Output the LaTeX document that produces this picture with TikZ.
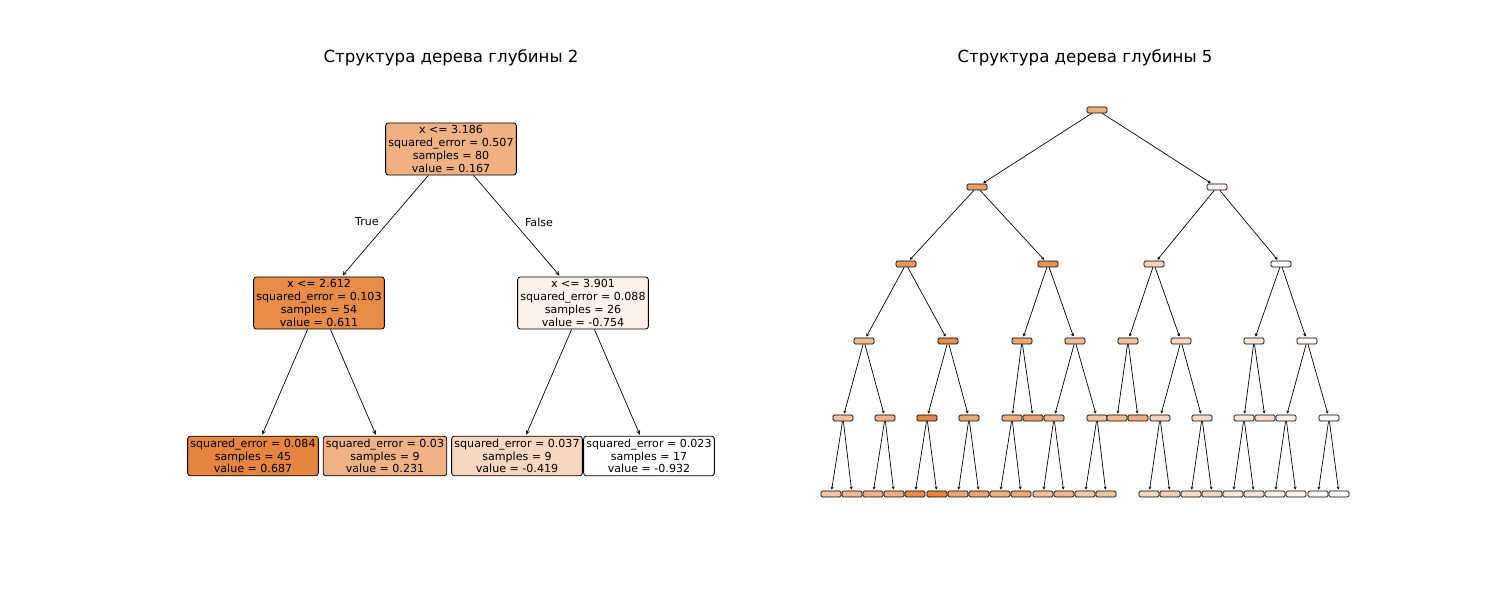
\documentclass[tikz,border=0pt]{standalone}
\usepackage{fontspec}
\setmainfont{DejaVu Sans}
\usetikzlibrary{arrows.meta}
\colorlet{o}{rgb,255:red,229;green,129;blue,57}

\tikzset{
  leafbox/.style={draw, rounded corners=2pt, line width=0.6pt, align=center,
    font=\fontsize{8}{9.2}\selectfont, inner sep=2pt},
  tinybox/.style={draw, rounded corners=1pt, line width=0.5pt,
    minimum width=0.2in, minimum height=0.06in, inner sep=0pt},
  edge/.style={-{To[length=3pt,width=3pt]}, line width=0.5pt, shorten >=1pt},
  lbl/.style={font=\fontsize{8}{9}\selectfont},
  title/.style={font=\fontsize{12}{14}\selectfont}
}

\begin{document}
\begin{tikzpicture}[x=0.01in, y=-0.01in]
    \useasboundingbox (0,0) rectangle (1500,600);

    % Depth 2
    \node (title2) [title] at (451,58) {Структура дерева глубины 2};
    \node (a) [leafbox, fill=o!62] at (451,149) {x <= 3.186\\squared\_error = 0.507\\samples = 80\\value = 0.167};
    \node (a0) [leafbox, fill=o!92] at (319,303) {x <= 2.612\\squared\_error = 0.103\\samples = 54\\value = 0.611};
    \node (a1) [leafbox, fill=o!10] at (583,303) {x <= 3.901\\squared\_error = 0.088\\samples = 26\\value = -0.754};
    \node (a00) [leafbox, fill=o!97] at (253,456) {squared\_error = 0.084\\samples = 45\\value = 0.687};
    \node (a01) [leafbox, fill=o!61] at (385,456) {squared\_error = 0.03\\samples = 9\\value = 0.231};
    \node (a10) [leafbox, fill=o!32] at (517,456) {squared\_error = 0.037\\samples = 9\\value = -0.419};
    \node (a11) [leafbox, fill=white] at (649,456) {squared\_error = 0.023\\samples = 17\\value = -0.932};

    \draw[edge] (a) -- (a0);
    \draw[edge] (a) -- (a1);
    \draw[edge] (a0) -- (a00);
    \draw[edge] (a0) -- (a01);
    \draw[edge] (a1) -- (a10);
    \draw[edge] (a1) -- (a11);
    \node (true) [lbl] at (367,222) {True};
    \node (false) [lbl] at (539,222) {False};

    % Depth 5
    \node (title5) [title] at (1085,58) {Структура дерева глубины 5};
    \foreach \n/\x/\y/\c in {
        t/1097/110/62, t0/977/187/75, t1/1217/187/10,
        t00/906/264/80, t01/1048/264/85, t10/1154/264/35, t11/1281/264/5,
        t000/864/341/55, t001/948/341/90, t010/1022/341/70, t011/1075/341/55,
        t100/1128/341/50, t101/1181/341/30, t110/1254/341/20, t111/1307/341/5,
        t0000/843/418/50, t0001/885/418/60, t0010/927/418/95, t0011/969/418/70,
        t0100/1012/418/65, t0101/1033/418/75, t0110/1054/418/55, t0111/1097/418/45,
        t1000/1117/418/55, t1001/1138/418/65, t1010/1160/418/35, t1011/1202/418/30,
        t1100/1244/418/20, t1101/1265/418/25, t1110/1286/418/10, t1111/1329/418/3,
        t00000/831/494/45, t00001/852/494/55, t00010/873/494/60, t00011/894/494/65,
        t00100/915/494/90, t00101/937/494/98, t00110/958/494/70, t00111/979/494/72,
        t01000/1000/494/62, t01001/1021/494/68, t01100/1043/494/50, t01101/1064/494/58,
        t01110/1085/494/42, t01111/1106/494/48,
        t10100/1149/494/32, t10101/1170/494/38, t10110/1191/494/28, t10111/1212/494/33,
        t11000/1233/494/18, t11001/1254/494/22, t11100/1275/494/8, t11101/1296/494/12,
        t11110/1318/494/3, t11111/1339/494/0}
      \node (\n) [tinybox, fill=o!\c] at (\x,\y) {};

    \foreach \p/\q in {
        t/t0, t/t1, t0/t00, t0/t01, t1/t10, t1/t11,
        t00/t000, t00/t001, t01/t010, t01/t011, t10/t100, t10/t101, t11/t110, t11/t111,
        t000/t0000, t000/t0001, t001/t0010, t001/t0011, t010/t0100, t010/t0101,
        t011/t0110, t011/t0111, t100/t1000, t100/t1001, t101/t1010, t101/t1011,
        t110/t1100, t110/t1101, t111/t1110, t111/t1111,
        t0000/t00000, t0000/t00001, t0001/t00010, t0001/t00011,
        t0010/t00100, t0010/t00101, t0011/t00110, t0011/t00111,
        t0100/t01000, t0100/t01001, t0110/t01100, t0110/t01101,
        t0111/t01110, t0111/t01111, t1010/t10100, t1010/t10101,
        t1011/t10110, t1011/t10111, t1100/t11000, t1100/t11001,
        t1110/t11100, t1110/t11101, t1111/t11110, t1111/t11111}
      \draw[edge, -{To[length=2pt,width=2pt]}] (\p) -- (\q);
\end{tikzpicture}
\end{document}
